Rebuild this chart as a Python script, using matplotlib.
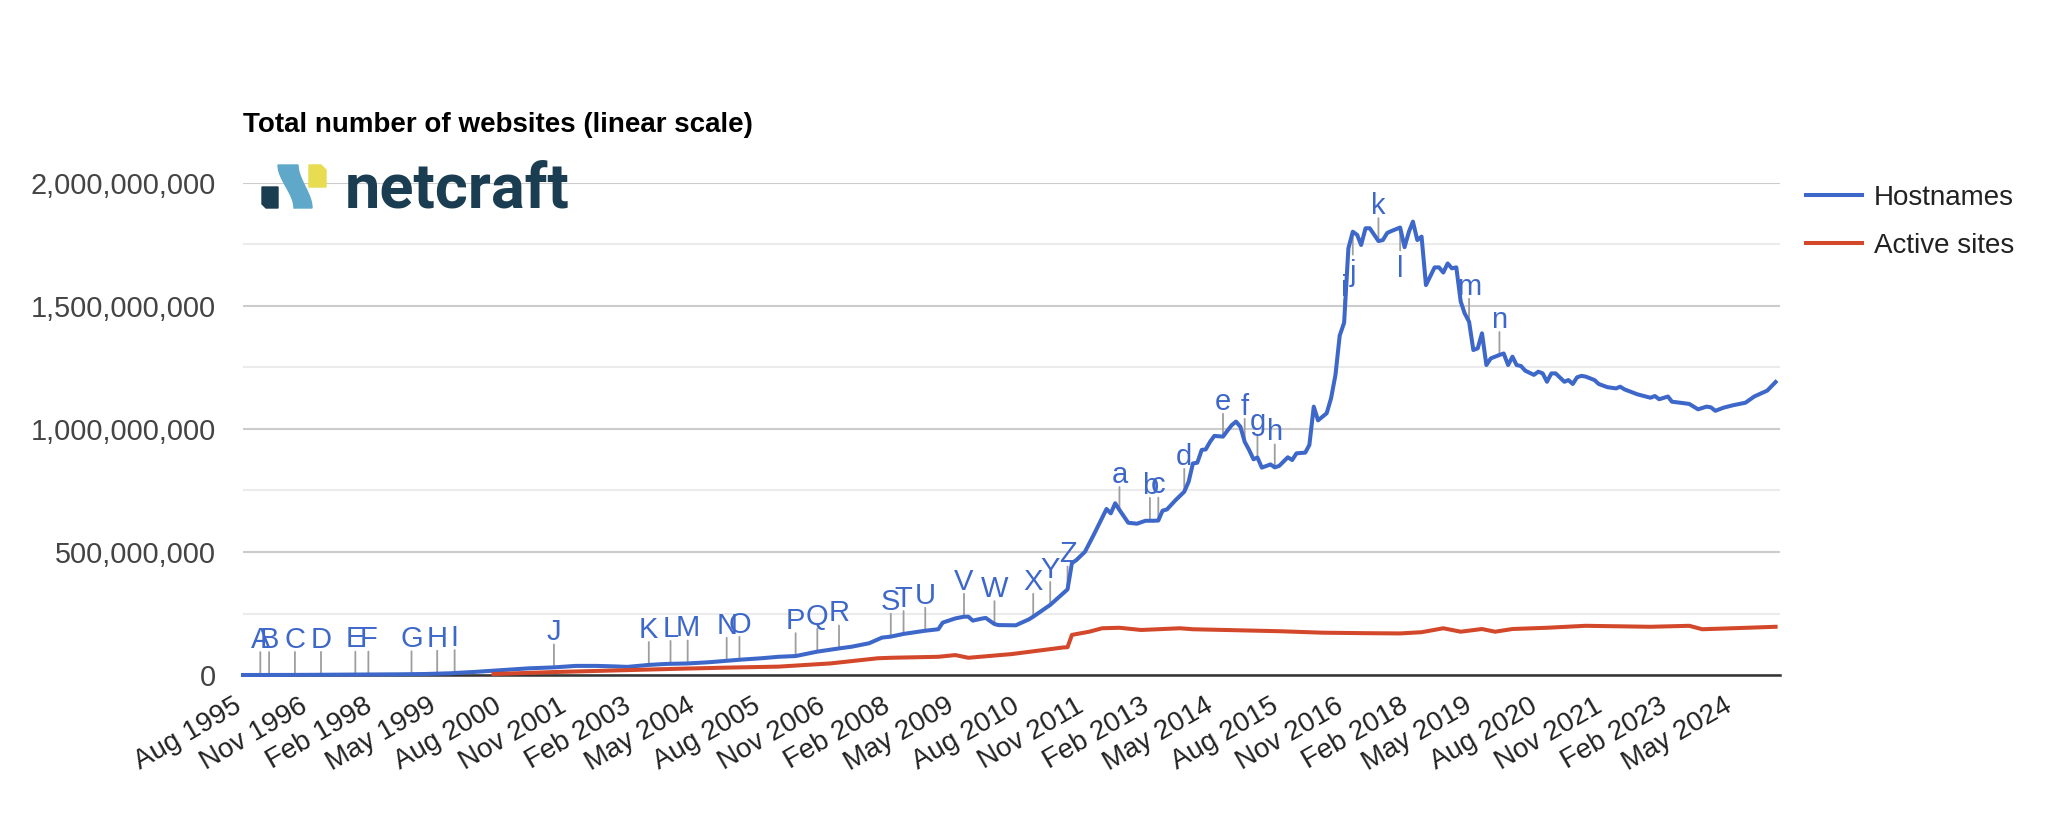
import numpy as np
import pandas as pd
import matplotlib
matplotlib.use('Agg')
import matplotlib.pyplot as plt
from matplotlib.patches import Polygon
from matplotlib.lines import Line2D
from matplotlib.ticker import FuncFormatter
import matplotlib.transforms as mtransforms

plt.rcParams['font.family'] = ['Liberation Sans', 'DejaVu Sans']

# months counted from the first survey (Aug 1995), values in millions
host_month = [0, 6, 12, 18, 24, 30, 36, 42, 48, 54, 60, 66, 72, 77, 82, 86, 89, 94, 98, 103,
              108, 112, 115, 120, 124, 128, 133, 138, 141, 145, 148, 150, 153, 158, 161, 162,
              165, 167, 168, 169, 171, 172, 174, 175, 179, 182, 183, 187, 191, 192, 193, 195,
              197, 200, 201, 202, 203, 205, 207, 209, 211, 212, 213, 214, 216, 218, 219, 220,
              221, 222, 223, 224, 225, 227, 228, 229, 230, 231, 232, 233, 234, 235, 236, 238,
              239, 240, 242, 243, 244, 246, 247, 248, 249, 251, 252, 253, 254, 255, 256, 257,
              258, 259, 260, 261, 263, 264, 265, 266, 268, 269, 270, 271, 272, 273, 274, 276,
              277, 278, 279, 280, 281, 282, 283, 284, 285, 286, 287, 288, 289, 291, 292, 293,
              294, 295, 296, 297, 299, 300, 301, 302, 303, 304, 306, 307, 308, 309, 310, 311,
              313, 314, 316, 318, 319, 320, 323, 326, 327, 328, 330, 331, 335, 337, 339, 340,
              341, 343, 345, 348, 350, 353, 355]
host_millions = [0.02, 0.1, 0.4, 0.9, 1.5, 2.1, 2.8, 4, 7, 13, 20, 27, 31, 37, 37, 35, 33, 41, 45, 47,
                 52, 58, 62, 68, 74, 77, 95, 108, 115, 129, 152, 156, 167, 180, 186, 213,
                 230, 237, 237, 221, 229, 232, 207, 203, 202, 226, 237, 285, 348, 455, 467, 501,
                 569, 675, 657, 698, 671, 619, 615, 627, 627, 628, 668, 673, 711, 745, 786, 860,
                 863, 915, 917, 948, 972, 969, 993, 1016, 1030, 1009, 948, 915, 877, 884, 843, 856,
                 844, 850, 885, 874, 901, 904, 935, 1091, 1035, 1064, 1125, 1220, 1380, 1432, 1734, 1802,
                 1789, 1748, 1816, 1816, 1764, 1768, 1797, 1805, 1819, 1739, 1802, 1843, 1768, 1782, 1585, 1657,
                 1657, 1636, 1673, 1653, 1657, 1518, 1470, 1436, 1321, 1328, 1389, 1260, 1287, 1301, 1307, 1260,
                 1294, 1260, 1256, 1237, 1220, 1233, 1226, 1192, 1226, 1226, 1192, 1199, 1183, 1210, 1216, 1213,
                 1199, 1183, 1170, 1165, 1172, 1161, 1141, 1127, 1134, 1121, 1132, 1111, 1102, 1080, 1091, 1088,
                 1074, 1087, 1096, 1107, 1132, 1156, 1191]

active_month = [58, 65, 72, 85, 100, 112, 124, 136, 147, 150, 161, 165, 168, 178, 190, 191, 192, 196,
                199, 203, 208, 217, 220, 230, 240, 250, 260, 268, 273, 278, 282, 287, 290, 294,
                302, 311, 326, 335, 338, 345, 355]
active_millions = [4, 8, 12, 18, 25, 30, 34, 47, 68, 70, 74, 81, 70, 85, 112, 113, 163, 176,
                   190, 192, 183, 190, 186, 182, 178, 172, 170, 169, 174, 190, 176, 187, 176, 187,
                   192, 200, 196, 200, 186, 190, 196]

note_letters = list("ABCDEFGHIJKLMNOPQRSTUVWXYZabcdefghijklmn")
note_month = [4, 6, 12, 18, 26, 29, 39, 45, 49, 72, 94, 99, 103, 112, 115, 128, 133, 138, 150, 153,
              158, 167, 174, 183, 187, 191, 203, 210, 212, 218, 227, 232, 235, 239, 255, 257, 263, 268,
              284, 291]
note_below = "jl"

series_names = ["Hostnames", "Active sites"]
series_colors = ["#3d67c9", "#d3472a"]
title = "Total number of websites (linear scale)"

W, H = 2052, 822
start = pd.Timestamp("1995-08-01")


def to_dates(months):
    return [start + pd.DateOffset(months=int(m)) for m in months]


def px(x, y):
    return (x / W, 1 - y / H)


fig = plt.figure(figsize=(W / 100, H / 100), dpi=100)
ax = fig.add_axes([243 / W, 1 - 675 / H, (1780 - 243) / W, (675 - 183) / H])

host_v = np.array(host_millions) * 1e6
act_v = np.array(active_millions) * 1e6
ax.plot(to_dates(host_month), host_v, color=series_colors[0], lw=2.9,
        solid_joinstyle='round', zorder=3, clip_on=False)
ax.plot(to_dates(active_month), act_v, color=series_colors[1], lw=2.9,
        solid_joinstyle='round', zorder=3, clip_on=False)

# annotation flags
note_v = np.interp(note_month, host_month, host_v)
for letter, m, v in zip(note_letters, note_month, note_v):
    d = to_dates([m])[0]
    sign = -1 if letter in note_below else 1
    ax.annotate("", xy=(d, v), xytext=(0, sign * 16.5), textcoords='offset points',
                arrowprops=dict(arrowstyle='-', color='#9e9e9e', lw=1.3, shrinkA=0, shrinkB=0),
                zorder=2)
    ax.annotate(letter, xy=(d, v), xytext=(0, sign * 19.5), textcoords='offset points',
                ha='center', va='baseline' if sign > 0 else 'top',
                fontsize=21, color='#3d67c9', zorder=4)

ax.set_ylim(0, 2e9)
ax.set_xlim(start, start + pd.DateOffset(months=356))
ax.set_yticks(np.arange(0, 2.01e9, 5e8))
ax.set_yticks(np.arange(2.5e8, 2e9, 5e8), minor=True)
ax.yaxis.set_major_formatter(FuncFormatter(lambda v, _: f"{int(v):,}"))
ax.grid(axis='y', which='major', color='#cccccc', lw=1.5, zorder=0)
ax.grid(axis='y', which='minor', color='#ebebeb', lw=1.5, zorder=0)
ax.set_axisbelow(True)
ax.tick_params(axis='y', which='both', length=0, pad=19.5, labelsize=20.8, labelcolor='#444444')

xt = to_dates(range(0, 346, 15))
ax.set_xticks(xt)
ax.set_xticklabels([d.strftime("%b %Y") for d in xt], rotation=30, ha='right', va='center',
                   rotation_mode='anchor', fontsize=20, color='#222222')
ax.tick_params(axis='x', length=0, pad=21)
shift = mtransforms.ScaledTranslation(-3 / 100, 0, fig.dpi_scale_trans)
for lab in ax.get_xticklabels():
    lab.set_transform(lab.get_transform() + shift)

for s in ['top', 'right', 'left']:
    ax.spines[s].set_visible(False)
ax.spines['bottom'].set_color('#333333')
ax.spines['bottom'].set_linewidth(1.8)
ax.spines['bottom'].set_zorder(2.5)

# legend
handles = [Line2D([], [], color=c, lw=2.9) for c in series_colors]
leg = ax.legend(handles, series_names, loc='upper left', bbox_to_anchor=px(1806, 185),
                bbox_transform=fig.transFigure, frameon=False, fontsize=20,
                handlelength=2.0, handletextpad=0.45, labelspacing=0.8,
                borderpad=0, borderaxespad=0)
for t in leg.get_texts():
    t.set_color('#222222')

fig.text(*px(243, 132), title, fontsize=20, fontweight='bold', va='baseline', ha='left',
         color='#000000')

# netcraft logo
navy, lblue, yellow = '#1b3d52', '#5fa8c9', '#e8dc50'
fig.add_artist(Polygon([px(262, 187), px(278, 187), px(278, 208), px(266, 208), px(262, 204)],
                       closed=True, color=navy, transform=fig.transFigure, zorder=5))
t = np.linspace(0, 1, 30)
s = t * t * (3 - 2 * t)
left = [px(278 + 16 * a, 165 + 43 * b) for a, b in zip(s, t)]
right = [px(298 + 14 * a, 165 + 43 * b) for a, b in zip(s, t)][::-1]
fig.add_artist(Polygon(left + right, closed=True, color=lblue, transform=fig.transFigure, zorder=5))
fig.add_artist(Polygon([px(309, 165), px(321, 165), px(326, 170), px(326, 187), px(309, 187)],
                       closed=True, color=yellow, transform=fig.transFigure, zorder=5))
fig.text(*px(345, 208), "netcraft", fontsize=45.5, fontweight='bold', family='Roboto',
         color=navy, va='baseline', ha='left', zorder=5)

fig.savefig("out.png", dpi=100, facecolor='white')
